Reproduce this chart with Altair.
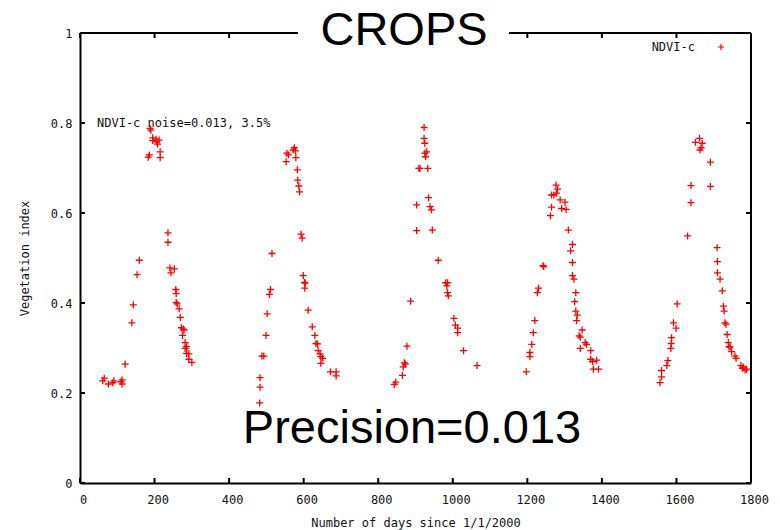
import altair as alt
import pandas as pd

# ---- data (day since 1/1/2000, NDVI-c) ----
days_2000 = [61, 65, 76, 88, 91, 110, 113, 113, 121, 139, 143, 153, 159, 183, 186, 188, 190, 195, 195, 204,
             206, 208, 212, 215, 215, 236, 236, 241, 244, 253, 257, 258, 258, 261, 266, 269, 272, 277, 279,
             275, 282, 282, 286, 286, 292, 292, 300]
ndvi_2000 = [0.227, 0.233, 0.220, 0.223, 0.227, 0.225, 0.229, 0.220, 0.264, 0.356, 0.396, 0.463, 0.495,
             0.724, 0.729, 0.788, 0.784, 0.767, 0.761, 0.764, 0.758, 0.753, 0.762, 0.736, 0.723, 0.556,
             0.535, 0.478, 0.467, 0.476, 0.430, 0.421, 0.401, 0.398, 0.387, 0.368, 0.345, 0.342, 0.340,
             0.328, 0.312, 0.299, 0.303, 0.288, 0.287, 0.275, 0.268]

days_2001 = [483, 483, 482, 488, 493, 499, 502, 508, 511, 515, 553, 555, 559, 572, 575, 578, 579, 583, 584,
             587, 589, 593, 596, 599, 602, 604, 603, 612, 623, 630, 633, 637, 639, 644, 646, 651, 646, 672,
             687, 687]
ndvi_2001 = [0.234, 0.213, 0.178, 0.282, 0.282, 0.328, 0.376, 0.419, 0.430, 0.510, 0.714, 0.733, 0.729,
             0.740, 0.745, 0.738, 0.723, 0.696, 0.673, 0.660, 0.647, 0.553, 0.544, 0.461, 0.446, 0.444,
             0.433, 0.384, 0.347, 0.328, 0.310, 0.309, 0.294, 0.287, 0.281, 0.277, 0.266, 0.247, 0.247,
             0.238]

days_2002 = [843, 847, 865, 867, 870, 873, 877, 887, 903, 903, 909, 912, 933, 927, 925, 930, 925, 923, 923,
             935, 939, 943, 945, 961, 981, 986, 984, 986, 988, 1003, 1007, 1013, 1013, 1029, 1065]
ndvi_2002 = [0.219, 0.224, 0.239, 0.258, 0.267, 0.264, 0.304, 0.404, 0.561, 0.618, 0.699, 0.699, 0.699,
             0.725, 0.733, 0.736, 0.755, 0.766, 0.790, 0.634, 0.614, 0.607, 0.562, 0.495, 0.445, 0.445,
             0.438, 0.423, 0.416, 0.366, 0.351, 0.344, 0.334, 0.294, 0.261]

days_2003 = [1197, 1207, 1207, 1212, 1216, 1220, 1227, 1230, 1242, 1244, 1262, 1265, 1265, 1271, 1278,
             1277, 1281, 1288, 1292, 1301, 1304, 1310, 1316, 1321, 1321, 1321, 1325, 1330, 1327, 1330,
             1334, 1332, 1347, 1339, 1342, 1355, 1359, 1342, 1370, 1370, 1375, 1386, 1377, 1391]
ndvi_2003 = [0.247, 0.290, 0.281, 0.308, 0.334, 0.361, 0.423, 0.433, 0.483, 0.481, 0.594, 0.613, 0.640,
             0.640, 0.644, 0.662, 0.653, 0.629, 0.610, 0.624, 0.608, 0.562, 0.516, 0.530, 0.490, 0.461,
             0.453, 0.423, 0.403, 0.382, 0.373, 0.361, 0.340, 0.327, 0.324, 0.312, 0.308, 0.299, 0.294,
             0.275, 0.270, 0.273, 0.253, 0.253]

days_2004 = [1556, 1560, 1560, 1574, 1577, 1585, 1586, 1587, 1592, 1599, 1602, 1630, 1639, 1639, 1651,
             1662, 1669, 1663, 1666, 1691, 1691, 1709, 1710, 1710, 1717, 1723, 1726, 1728, 1730, 1733,
             1736, 1739, 1741, 1744, 1748, 1757, 1760, 1773, 1777, 1779, 1784, 1788]
ndvi_2004 = [0.223, 0.236, 0.250, 0.261, 0.272, 0.299, 0.310, 0.323, 0.356, 0.344, 0.398, 0.549, 0.623,
             0.661, 0.757, 0.766, 0.755, 0.740, 0.745, 0.713, 0.659, 0.523, 0.492, 0.467, 0.453, 0.427,
             0.393, 0.382, 0.356, 0.353, 0.330, 0.312, 0.303, 0.302, 0.292, 0.282, 0.277, 0.261, 0.255,
             0.258, 0.251, 0.253]

x_ticks = [0, 200, 400, 600, 800, 1000, 1200, 1400, 1600, 1800]
y_ticks = [0, 0.2, 0.4, 0.6, 0.8, 1]

series_name = ["NDVI-c"]
title_text = ["CROPS"]
note_text = ["NDVI-c noise=0.013, 3.5%"]
big_text = ["Precision=0.013"]

W, H = 671, 450
MONO = "DejaVu Sans Mono"
SANS = "Liberation Sans"
PLUS = "M-1,0L1,0M0,-1L0,1"

days = days_2000 + days_2001 + days_2002 + days_2003 + days_2004
ndvi = ndvi_2000 + ndvi_2001 + ndvi_2002 + ndvi_2003 + ndvi_2004
df = pd.DataFrame({"day": days, "ndvi": ndvi})

xscale = alt.Scale(domain=[0, 1800], nice=False, zero=False)
yscale = alt.Scale(domain=[0, 1], nice=False)

xaxis = alt.Axis(values=x_ticks, title="Number of days since 1/1/2000", grid=False, ticks=False,
                 tickSize=0, domain=True, domainColor="black", domainWidth=2,
                 labelFont=MONO, labelFontSize=12, labelColor="#111", labelPadding=11, labelOffset=3,
                 titleFont=MONO, titleFontSize=12, titleFontWeight="normal", titleColor="#111",
                 titlePadding=12, format="d", labelFlush=False)
yaxis = alt.Axis(values=y_ticks, title="Vegetation index", grid=False, ticks=False, tickSize=0,
                 domain=True, domainColor="black", domainWidth=2,
                 labelFont=MONO, labelFontSize=12, labelColor="#111", labelPadding=8,
                 titleFont=MONO, titleFontSize=12, titleFontWeight="normal", titleColor="#111",
                 titlePadding=19, labelFlush=False,
                 labelExpr="datum.value == 0 ? '0' : datum.value == 1 ? '1' : format(datum.value, '.1f')")

points = alt.Chart(df).mark_point(shape=PLUS, size=49, filled=False, stroke="#ff0000",
                                  strokeWidth=1.3, opacity=1).encode(
    x=alt.X("day:Q", scale=xscale, axis=xaxis),
    y=alt.Y("ndvi:Q", scale=yscale, axis=yaxis),
)

dxt = pd.DataFrame({"day": x_ticks})
dyt = pd.DataFrame({"ndvi": y_ticks})
tick_style = dict(color="black", strokeWidth=2)
xt_bottom = alt.Chart(dxt).mark_rule(**tick_style).encode(
    x=alt.X("day:Q", scale=xscale, axis=xaxis), y=alt.value(H), y2=alt.value(H - 5))
xt_top = alt.Chart(dxt).mark_rule(**tick_style).encode(
    x=alt.X("day:Q", scale=xscale, axis=xaxis), y=alt.value(0), y2=alt.value(5))
yt_left = alt.Chart(dyt).mark_rule(**tick_style).encode(
    y=alt.Y("ndvi:Q", scale=yscale, axis=yaxis), x=alt.value(0), x2=alt.value(5))
yt_right = alt.Chart(dyt).mark_rule(**tick_style).encode(
    y=alt.Y("ndvi:Q", scale=yscale, axis=yaxis), x=alt.value(W), x2=alt.value(W - 5))

frame_top = alt.Chart(dxt).mark_rule(color="black", strokeWidth=2).encode(
    x=alt.value(0), x2=alt.value(W), y=alt.value(0))
frame_right = alt.Chart(dxt).mark_rule(color="black", strokeWidth=2).encode(
    x=alt.value(W), y=alt.value(0), y2=alt.value(H))

title_box = alt.Chart(pd.DataFrame({"t": title_text})).mark_rect(fill="white").encode(
    x=alt.value(218), x2=alt.value(429), y=alt.value(-33), y2=alt.value(32))
title = alt.Chart(pd.DataFrame({"t": title_text})).mark_text(
    font=SANS, fontSize=47, color="black", align="center", baseline="alphabetic").encode(
    text="t:N", x=alt.value(324), y=alt.value(12))

note = alt.Chart(pd.DataFrame({"t": note_text})).mark_text(
    font=MONO, fontSize=12, color="#111", align="left", baseline="middle").encode(
    text="t:N", x=alt.value(17), y=alt.value(90))

big = alt.Chart(pd.DataFrame({"t": big_text})).mark_text(
    font=SANS, fontSize=47, color="black", align="center", baseline="alphabetic").encode(
    text="t:N", x=alt.value(332), y=alt.value(410))

legend_label = alt.Chart(pd.DataFrame({"t": series_name})).mark_text(
    font=MONO, fontSize=12, color="#111", align="right", baseline="middle").encode(
    text="t:N", x=alt.value(615), y=alt.value(14))
legend_sym = alt.Chart(pd.DataFrame({"t": series_name})).mark_point(
    shape=PLUS, size=36, filled=False, stroke="#ff0000", strokeWidth=1.2, opacity=1).encode(
    x=alt.value(641), y=alt.value(14))

chart = alt.layer(
    points, xt_bottom, xt_top, yt_left, yt_right, frame_top, frame_right,
    title_box, title, note, big, legend_label, legend_sym
).properties(
    width=W, height=H,
    autosize=alt.AutoSizeParams(type="none"),
    padding={"left": 80, "top": 33, "right": 29, "bottom": 47},
    background="white",
).configure_view(stroke=None)

chart.save("out.html", embed_options={"renderer": "svg", "actions": False})
